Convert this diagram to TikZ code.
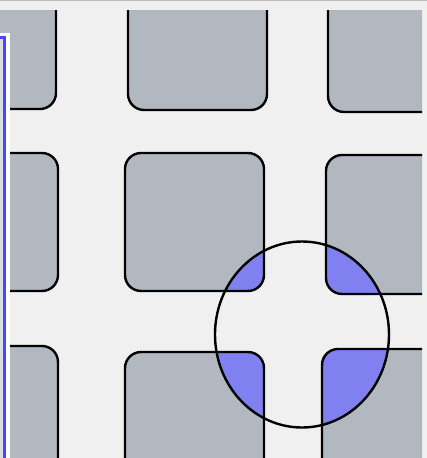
\documentclass[tikz,border=0pt]{standalone}
\definecolor{paper}{HTML}{F0F0F0}
\definecolor{tilegray}{HTML}{B1B8BF}
\definecolor{lensblue}{HTML}{8080F0}
\definecolor{barblue}{HTML}{4848F8}
\definecolor{barfill}{HTML}{D8DDE0}
\tikzset{
  tile/.style={rounded corners=12pt, line width=1.8pt},
  lens/.style={line width=1.8pt, x radius=65.25pt, y radius=69.75pt}
}
% corners of the tiles, in pixels
\newcommand\tilelist{-30/-30/56/109, 128/-30/267/110, 328/-30/460/112,
  -30/153/58/291, 125/153/264/291, 326/155/460/294,
  -30/346/58/480, 125/352/264/480, 322/349/460/480}

\begin{document}
\begin{tikzpicture}[x=0.75pt, y=-0.75pt]
\useasboundingbox (0,0) rectangle (427,458);
\fill[paper] (0,0) rectangle (427,458);
\coordinate (lenscentre) at (302,334.5);

\begin{scope}
\clip (0,10) rectangle (422,458);
% grey tiles
\foreach \xa/\ya/\xb/\yb in \tilelist
  \fill[tile, tilegray] (\xa,\ya) rectangle (\xb,\yb);
% the part under the lens
\begin{scope}
\clip (lenscentre) ellipse [x radius=65.25pt, y radius=69.75pt];
\foreach \xa/\ya/\xb/\yb in \tilelist
  \fill[tile, lensblue] (\xa,\ya) rectangle (\xb,\yb);
\end{scope}
% outlines
\foreach \xa/\ya/\xb/\yb in \tilelist
  \draw[tile] (\xa,\ya) rectangle (\xb,\yb);
\end{scope}

\draw[lens] (lenscentre) ellipse [];

% top strip and side panel
\draw[gray!50, line width=0.8pt] (0,0.5) -- (427,0.5);
\fill[white] (0,33) rectangle (10,458);
\draw[barblue, fill=barfill, line width=2pt] (-10,37.5) rectangle (4.5,470);
\end{tikzpicture}
\end{document}
